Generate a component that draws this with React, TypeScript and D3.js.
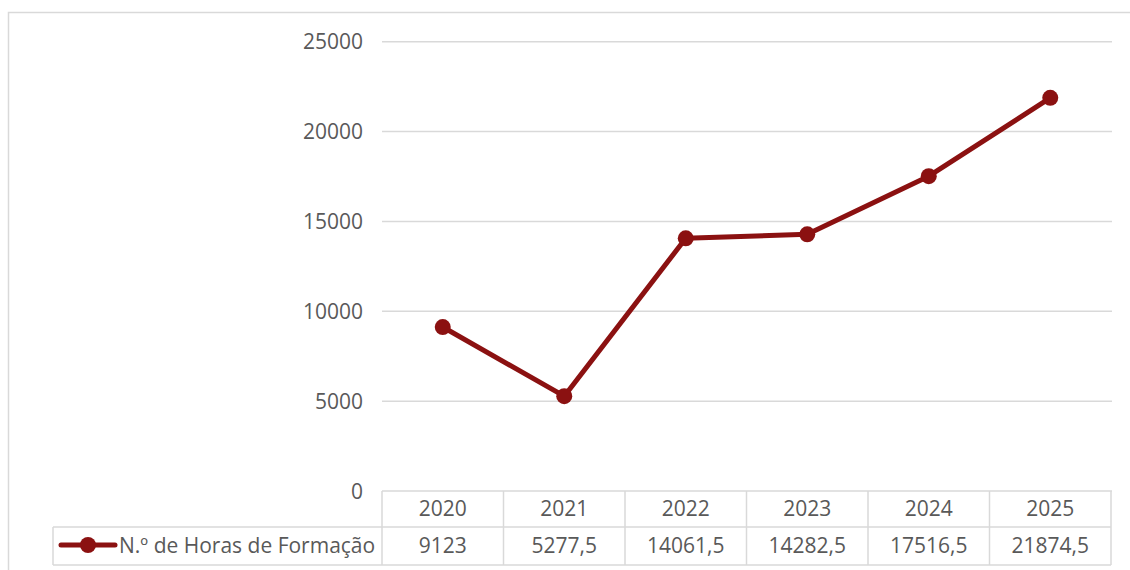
import React, { useEffect, useRef } from "react";
import * as d3 from "d3";

const years = ["2020", "2021", "2022", "2023", "2024", "2025"];
const hours = [9123, 5277.5, 14061.5, 14282.5, 17516.5, 21874.5];
const hourLabels = ["9123", "5277,5", "14061,5", "14282,5", "17516,5", "21874,5"];
const yTicks = [0, 5000, 10000, 15000, 20000, 25000];
const seriesName = "N.º de Horas de Formação";

const W = 1130;
const H = 570;
const FONT = "'Open Sans', 'Noto Sans', sans-serif";
const FS = 21;
const TEXT = "#595959";
const GRID = "#d9d9d9";
const LINE = "#8b1111";

const App = () => {
  const ref = useRef<SVGSVGElement>(null);

  useEffect(() => {
    const svg = d3.select(ref.current);
    svg.selectAll("*").remove();

    const left = 382;
    const right = 1111;
    const top = 41.7;
    const bottom = 491;
    const rowMid = 527;
    const rowEnd = 565;
    const legendLeft = 53;

    const x = d3.scaleBand().domain(years).range([left, right]).padding(0);
    const y = d3.scaleLinear().domain([0, 25000]).range([bottom, top]);

    // outer frame
    svg
      .append("rect")
      .attr("x", 8.5)
      .attr("y", 12.5)
      .attr("width", W)
      .attr("height", H)
      .attr("fill", "none")
      .attr("stroke", GRID)
      .attr("stroke-width", 1.5);

    // gridlines
    svg
      .append("g")
      .selectAll("line")
      .data(yTicks)
      .enter()
      .append("line")
      .attr("x1", left)
      .attr("x2", right + 1)
      .attr("y1", (d) => y(d))
      .attr("y2", (d) => y(d))
      .attr("stroke", GRID)
      .attr("stroke-width", 1.5);

    // y labels
    svg
      .append("g")
      .selectAll("text")
      .data(yTicks)
      .enter()
      .append("text")
      .attr("x", 363)
      .attr("y", (d) => y(d))
      .attr("dy", "0.36em")
      .attr("text-anchor", "end")
      .attr("font-family", FONT)
      .attr("font-size", FS)
      .attr("fill", TEXT)
      .text((d) => String(d));

    // data table lines
    const tbl = svg.append("g").attr("stroke", GRID).attr("stroke-width", 1.5);
    tbl.append("line").attr("x1", legendLeft).attr("x2", right).attr("y1", rowMid).attr("y2", rowMid);
    tbl.append("line").attr("x1", legendLeft).attr("x2", right).attr("y1", rowEnd).attr("y2", rowEnd);
    tbl.append("line").attr("x1", legendLeft).attr("x2", legendLeft).attr("y1", rowMid).attr("y2", rowEnd);
    const bounds = years.map((d) => x(d) as number).concat([right]);
    tbl
      .selectAll("line.v")
      .data(bounds)
      .enter()
      .append("line")
      .attr("class", "v")
      .attr("x1", (d) => d)
      .attr("x2", (d) => d)
      .attr("y1", bottom)
      .attr("y2", rowEnd);

    // header + values
    svg
      .append("g")
      .selectAll("text")
      .data(years)
      .enter()
      .append("text")
      .attr("x", (d) => (x(d) as number) + x.bandwidth() / 2)
      .attr("y", 515.5)
      .attr("text-anchor", "middle")
      .attr("font-family", FONT)
      .attr("font-size", FS)
      .attr("fill", TEXT)
      .text((d) => d);

    svg
      .append("g")
      .selectAll("text")
      .data(hourLabels)
      .enter()
      .append("text")
      .attr("x", (_, i) => (x(years[i]) as number) + x.bandwidth() / 2)
      .attr("y", 552.5)
      .attr("text-anchor", "middle")
      .attr("font-family", FONT)
      .attr("font-size", FS)
      .attr("fill", TEXT)
      .text((d) => d);

    // legend key in table
    svg
      .append("line")
      .attr("x1", 61)
      .attr("x2", 115)
      .attr("y1", 545)
      .attr("y2", 545)
      .attr("stroke", LINE)
      .attr("stroke-width", 5)
      .attr("stroke-linecap", "round");
    svg.append("circle").attr("cx", 88).attr("cy", 545).attr("r", 8).attr("fill", LINE);
    svg
      .append("text")
      .attr("x", 119)
      .attr("y", 552.5)
      .attr("font-family", FONT)
      .attr("font-size", FS)
      .attr("fill", TEXT)
      .text(seriesName);

    // series
    const cx = (i: number) => (x(years[i]) as number) + x.bandwidth() / 2;
    const line = d3
      .line<number>()
      .x((_, i) => cx(i))
      .y((d) => y(d));
    svg
      .append("path")
      .datum(hours)
      .attr("d", line)
      .attr("fill", "none")
      .attr("stroke", LINE)
      .attr("stroke-width", 5)
      .attr("stroke-linejoin", "round");
    svg
      .append("g")
      .selectAll("circle")
      .data(hours)
      .enter()
      .append("circle")
      .attr("cx", (_, i) => cx(i))
      .attr("cy", (d) => y(d))
      .attr("r", 8)
      .attr("fill", LINE);
  }, []);

  return (
    <svg
      ref={ref}
      width={W}
      height={H}
      style={{ position: "absolute", left: 0, top: 0, background: "#fff" }}
    />
  );
};

export default App;
